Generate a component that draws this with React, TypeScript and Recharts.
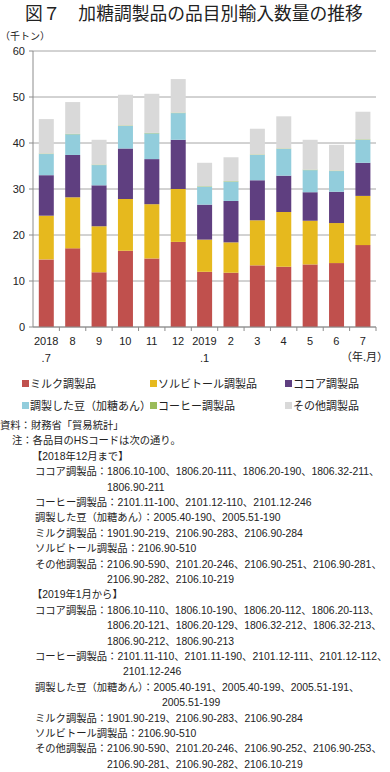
import { Bar, BarChart, CartesianGrid, XAxis, YAxis } from "recharts";

// 2018年7月〜2019年7月、千トン
const CATEGORIES = ["2018.7", "8", "9", "10", "11", "12", "2019.1", "2", "3", "4", "5", "6", "7"];
const MILK = [14.7, 17.1, 11.9, 16.6, 14.9, 18.5, 12.0, 11.8, 13.4, 13.1, 13.6, 13.9, 17.8];
const SORBITOL = [9.5, 11.1, 10.0, 11.2, 11.8, 11.5, 7.0, 6.6, 9.8, 11.9, 9.5, 8.7, 10.7];
const COCOA = [8.8, 9.2, 8.9, 11.0, 9.8, 10.7, 7.6, 9.0, 8.7, 7.9, 6.2, 6.8, 7.2];
const BEANS = [4.6, 4.5, 4.4, 4.9, 5.6, 5.8, 3.9, 4.2, 5.5, 5.8, 4.8, 4.5, 5.0];
const COFFEE = [0.1, 0.1, 0.1, 0.1, 0.1, 0.1, 0.1, 0.1, 0.1, 0.1, 0.1, 0.1, 0.1];
const OTHER = [7.5, 6.9, 5.4, 6.7, 8.5, 7.3, 5.1, 5.2, 5.6, 7.0, 6.5, 5.6, 6.0];
const Y_TICKS = [0, 10, 20, 30, 40, 50, 60];

const SERIES = [
  { key: "milk", name: "ミルク調製品", color: "#c0504d" },
  { key: "sorbitol", name: "ソルビトール調製品", color: "#e6b91e" },
  { key: "cocoa", name: "ココア調製品", color: "#5f3f80" },
  { key: "beans", name: "調製した豆（加糖あん）", color: "#92cddc" },
  { key: "coffee", name: "コーヒー調製品", color: "#9bbb59" },
  { key: "other", name: "その他調製品", color: "#d9d9d9" },
];

const data = CATEGORIES.map((c, i) => ({
  month: c,
  milk: MILK[i],
  sorbitol: SORBITOL[i],
  cocoa: COCOA[i],
  beans: BEANS[i],
  coffee: COFFEE[i],
  other: OTHER[i],
}));

const AXIS = "#8c8c8c";
const GRID = "#a6a6a6";
const INK = "#222";
const LATIN = "'Liberation Sans', 'Noto Sans CJK JP', sans-serif";
const CJK = "'Noto Sans CJK JP', sans-serif";

function MonthTick(props: any) {
  const { x, y, payload } = props;
  const [top, sub] = String(payload.value).split(".");
  const off = payload.offset ?? 13;
  return (
    <g>
      <line x1={x + off} x2={x + off} y1={y - 6} y2={y - 2} stroke={AXIS} />
      <text x={x} y={y + 12} textAnchor="middle" fontSize={11} fill={INK} fontFamily={LATIN}>
        {top}
      </text>
      {sub && (
        <text x={x} y={y + 29} textAnchor="middle" fontSize={11} fill={INK} fontFamily={LATIN}>
          {"." + sub}
        </text>
      )}
    </g>
  );
}

const NOTES: [number, string][] = [
  [0, "資料：財務省「貿易統計」"],
  [12, "注：各品目のHSコードは次の通り。"],
  [32, "【2018年12月まで】"],
  [35, "ココア調製品：1806.10-100、1806.20-111、1806.20-190、1806.32-211、"],
  [107, "1806.90-211"],
  [35, "コーヒー調製品：2101.11-100、2101.12-110、2101.12-246"],
  [35, "調製した豆（加糖あん）：2005.40-190、2005.51-190"],
  [35, "ミルク調製品：1901.90-219、2106.90-283、2106.90-284"],
  [35, "ソルビトール調製品：2106.90-510"],
  [35, "その他調製品：2106.90-590、2101.20-246、2106.90-251、2106.90-281、"],
  [107, "2106.90-282、2106.10-219"],
  [32, "【2019年1月から】"],
  [35, "ココア調製品：1806.10-110、1806.10-190、1806.20-112、1806.20-113、"],
  [107, "1806.20-121、1806.20-129、1806.32-212、1806.32-213、"],
  [107, "1806.90-212、1806.90-213"],
  [35, "コーヒー調製品：2101.11-110、2101.11-190、2101.12-111、2101.12-112、"],
  [123, "2101.12-246"],
  [35, "調製した豆（加糖あん）：2005.40-191、2005.40-199、2005.51-191、"],
  [162, "2005.51-199"],
  [35, "ミルク調製品：1901.90-219、2106.90-283、2106.90-284"],
  [35, "ソルビトール調製品：2106.90-510"],
  [35, "その他調製品：2106.90-590、2101.20-246、2106.90-252、2106.90-253、"],
  [107, "2106.90-281、2106.90-282、2106.10-219"],
];

// CJK runs and Latin runs get different type, as in the printed note
const CJK_RUN = /([\u3000-\u30ff\u4e00-\u9fff\uff00-\uffef]+)/;
function NoteText({ text }: { text: string }) {
  const parts = text.split(CJK_RUN).filter((p) => p);
  return (
    <>
      {parts.map((p, i) =>
        CJK_RUN.test(p) ? (
          <span key={i} style={{ fontFamily: CJK, fontSize: 10.3 }}>{p}</span>
        ) : (
          <span key={i} style={{ fontFamily: LATIN, fontSize: 10.4 }}>{p}</span>
        )
      )}
    </>
  );
}

const LEGEND_X = [22, 150, 285];

export default function App() {
  return (
    <div style={{ position: "relative", width: 390, height: 772, overflow: "hidden", background: "#fff", color: INK }}>
      <style>{"body{margin:0}"}</style>
      <div style={{ position: "absolute", left: 25, top: 1, fontFamily: CJK, fontSize: 17.8, lineHeight: "22px", whiteSpace: "nowrap" }}>
        図７　加糖調製品の品目別輸入数量の推移
      </div>
      <div style={{ position: "absolute", left: 0, top: 29, fontFamily: CJK, fontSize: 10, lineHeight: "14px" }}>
        （千トン）
      </div>

      <div style={{ position: "absolute", left: 0, top: 0 }}>
        <BarChart width={390} height={370} data={data} margin={{ top: 51, right: 14, bottom: 3, left: 0 }} barCategoryGap="22%">
          <CartesianGrid vertical={false} stroke={GRID} />
          <XAxis
            dataKey="month"
            height={40}
            interval={0}
            tick={<MonthTick />}
            tickLine={false}
            tickSize={4}
            tickMargin={2}
            axisLine={{ stroke: AXIS }}
          />
          <YAxis
            width={33}
            domain={[0, 60]}
            ticks={Y_TICKS}
            interval={0}
            tick={{ fill: INK, fontSize: 11, fontFamily: LATIN }}
            tickSize={4}
            tickMargin={4}
            tickLine={{ stroke: AXIS }}
            axisLine={{ stroke: AXIS }}
          />
          {SERIES.map((s) => (
            <Bar key={s.key} dataKey={s.key} name={s.name} stackId="a" fill={s.color} isAnimationActive={false} />
          ))}
        </BarChart>
      </div>

      <div style={{ position: "absolute", right: 2, top: 349, fontFamily: CJK, fontSize: 11, lineHeight: "14px" }}>
        （年.月）
      </div>

      {SERIES.map((s, i) => (
        <div
          key={s.key}
          style={{
            position: "absolute",
            left: LEGEND_X[i % 3],
            top: 376 + Math.floor(i / 3) * 22,
            fontFamily: CJK,
            fontSize: 11,
            lineHeight: "14px",
            whiteSpace: "nowrap",
            display: "flex",
            alignItems: "center",
          }}
        >
          <span style={{ display: "inline-block", width: 7, height: 7, background: s.color, marginRight: 1 }} />
          {s.name}
        </div>
      ))}

      {NOTES.map(([x, t], i) => (
        <div
          key={i}
          style={{
            position: "absolute",
            left: x,
            top: 417 + i * 15.4,
            lineHeight: "13px",
            whiteSpace: "nowrap",
          }}
        >
          <NoteText text={t} />
        </div>
      ))}
    </div>
  );
}
